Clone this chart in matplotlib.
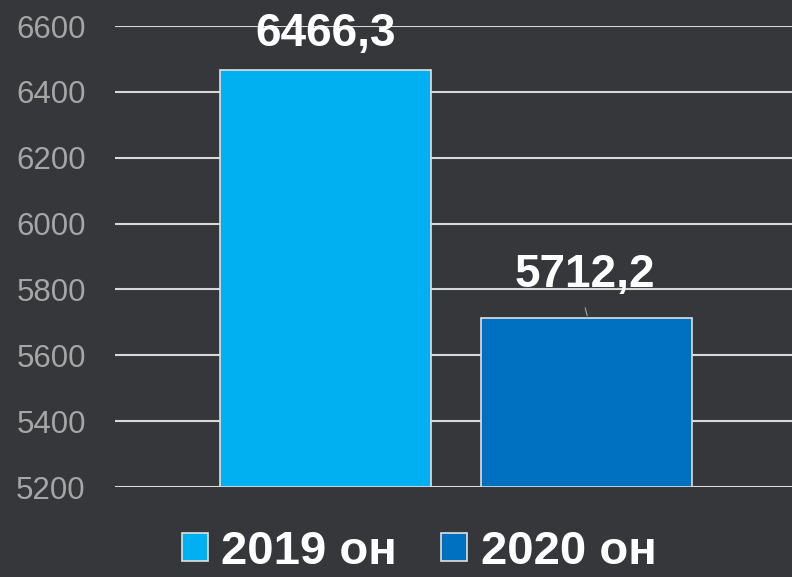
import matplotlib
matplotlib.use('Agg')
from matplotlib import pyplot as plt
from matplotlib.patches import Patch

# data
series = ['2019 он', '2020 он']
values = [6466.3, 5712.2]
value_labels = ['6466,3', '5712,2']
colors = ['#00B0F0', '#0070C0']
yticks = [5200, 5400, 5600, 5800, 6000, 6200, 6400, 6600]

bg = '#36373B'
plt.rcParams['font.family'] = ['Liberation Sans', 'DejaVu Sans']

fig = plt.figure(figsize=(7.92, 5.77), dpi=100, facecolor=bg)
ax = fig.add_axes([115 / 792, 1 - 487 / 577, 1 - 115 / 792, (487 - 26) / 577])
ax.set_facecolor(bg)

width = 0.312
offsets = [-0.1895, 0.1965]
for i in range(len(series)):
    ax.bar(offsets[i], values[i] - yticks[0], width=width, bottom=yticks[0],
           color=colors[i], edgecolor='#E0E0E0', linewidth=1.2, zorder=3)

# data labels (the second one has a small leader line)
ax.annotate(value_labels[0], (offsets[0], values[0]), xytext=(0, 10), textcoords='offset points',
            ha='center', va='bottom', fontsize=33, fontweight='bold', color='white', zorder=5)
ax.annotate(value_labels[1], (offsets[1], values[1]), xytext=(-1, 15.5), textcoords='offset points',
            ha='center', va='bottom', fontsize=33, fontweight='bold', color='white', zorder=5)
ax.annotate('', (offsets[1] + 0.002, values[1]), xytext=(offsets[1] - 0.003, values[1] + 40),
            arrowprops=dict(arrowstyle='-', color='#A6A6A6', lw=0.8), zorder=4)

ax.set_xlim(-0.5, 0.5)
ax.set_ylim(5200, 6600)
ax.set_yticks(yticks)
ax.set_yticklabels([str(t) for t in yticks])
ax.set_xticks([])
ax.tick_params(axis='y', length=0, pad=21, labelsize=22.5, labelcolor='#A6A6A6')
ax.grid(axis='y', color='#D9D9D9', linewidth=1.5, zorder=0)
for s in ax.spines.values():
    s.set_visible(False)

handles = [Patch(facecolor=colors[i], edgecolor='#E0E0E0', linewidth=1.2) for i in range(len(series))]
leg = fig.legend(handles, series, loc='lower center', bbox_to_anchor=(419 / 792, -0.035), ncol=2,
                 frameon=False, handlelength=0.55, handleheight=0.55, handletextpad=0.28,
                 columnspacing=0.95, borderpad=0, prop={'size': 34, 'weight': 'bold'})
for t in leg.get_texts():
    t.set_color('white')

fig.savefig('out.png', dpi=100, facecolor=bg)
